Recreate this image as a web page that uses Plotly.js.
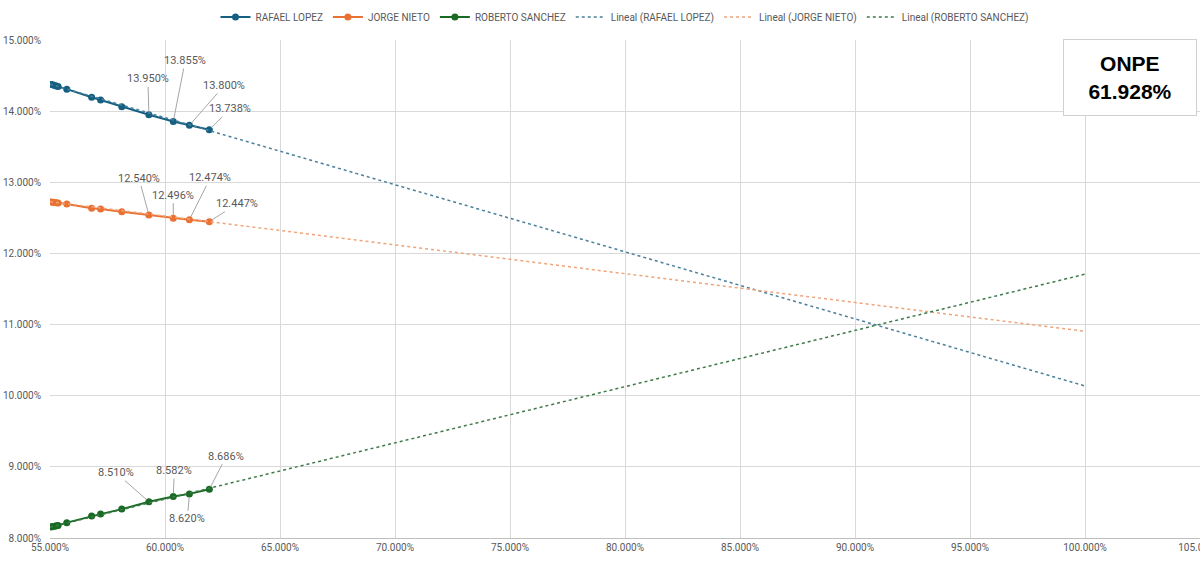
<!DOCTYPE html>
<html>
<head>
<meta charset="utf-8">
<script src="https://cdn.plot.ly/plotly-3.0.1.min.js"></script>
<style>html,body{margin:0;padding:0;background:#fff;}#chart{width:1200px;height:562px;}</style>
</head>
<body>
<div id="chart"></div>
<script>
// Percentage of votes counted by ONPE (x axis)
const counted = [55.05, 55.12, 55.20, 55.28, 55.35, 55.73, 56.81, 57.20, 58.12, 59.30, 60.36, 61.06, 61.928];
// Vote share per candidate (%)
const rafaelLopez   = [14.376, 14.370, 14.362, 14.355, 14.348, 14.309, 14.196, 14.158, 14.060, 13.950, 13.855, 13.800, 13.738];
const jorgeNieto    = [12.724, 12.720, 12.716, 12.712, 12.708, 12.694, 12.634, 12.624, 12.587, 12.540, 12.496, 12.474, 12.447];
const robertoSanchez = [8.156, 8.161, 8.166, 8.172, 8.177, 8.216, 8.308, 8.336, 8.406, 8.510, 8.582, 8.620, 8.686];
// Linear trend lines (Excel "Lineal"), endpoints
const trendX = [55, 100];
const trendRafael = [14.380, 10.137];
const trendJorge = [12.728, 10.905];
const trendRoberto = [8.152, 11.708];
// Series names
const names = ["RAFAEL LOPEZ", "JORGE NIETO", "ROBERTO SANCHEZ"];
// Indices of points with data labels
const labelIdx = [9, 10, 11, 12];
const onpeCounted = 61.928;

const colors = ["#156082", "#E97132", "#196B24"];
const trendColors = ["#4a7f9a", "#f0a47a", "#3f7a4a"];
const series = [rafaelLopez, jorgeNieto, robertoSanchez];
const trends = [trendRafael, trendJorge, trendRoberto];
const FONT = "'Liberation Sans Narrow', 'Roboto', 'Liberation Sans', sans-serif";

const data = [];
series.forEach((s, i) => {
  data.push({
    x: counted, y: s, type: 'scatter', mode: 'lines+markers', name: names[i],
    line: {color: colors[i], width: 2}, marker: {color: colors[i], size: 7}
  });
});
trends.forEach((t, i) => {
  data.push({
    x: trendX, y: t, type: 'scatter', mode: 'lines', name: 'Lineal (' + names[i] + ')',
    line: {color: trendColors[i], width: 1.5, dash: 'dot'}, hoverinfo: 'skip'
  });
});

// label offsets (pixel) per series, per labelled point
const offsets = [
  [[-1, -36], [12, -61], [35, -40], [21, -21]],
  [[-10, -37], [0, -23], [21, -42], [28, -18]],
  [[-33, -29], [1, -26], [-2, 25], [17, -33]]
];
const annotations = [];
series.forEach((s, i) => {
  labelIdx.forEach((k, j) => {
    annotations.push({
      x: counted[k], y: s[k], xref: 'x', yref: 'y',
      text: s[k].toFixed(3) + '%',
      showarrow: true, arrowhead: 0, arrowwidth: 1, arrowcolor: '#a6a6a6',
      ax: offsets[i][j][0], ay: offsets[i][j][1], standoff: 3,
      font: {family: FONT, size: 11, color: '#595959'}
    });
  });
});
annotations.push({
  xref: 'paper', yref: 'paper', x: 0.939, y: 0.925, xanchor: 'center', yanchor: 'middle',
  showarrow: false, width: 128, height: 71,
  text: '<b>ONPE</b><br><b>' + onpeCounted.toFixed(3) + '%</b>',
  font: {family: "'Liberation Sans', Arial, sans-serif", size: 21, color: '#000'},
  bgcolor: '#ffffff', bordercolor: '#d0d0d0', borderwidth: 1, borderpad: 2
});

const layout = {
  width: 1200, height: 562,
  margin: {l: 50, r: 0, t: 40, b: 24},
  paper_bgcolor: '#ffffff', plot_bgcolor: '#ffffff',
  font: {family: FONT, size: 10, color: '#595959'},
  showlegend: true,
  legend: {orientation: 'h', x: 0.5, xanchor: 'center', y: 1.046, yanchor: 'middle',
           font: {family: FONT, size: 10, color: '#595959'}, itemwidth: 30},
  xaxis: {range: [55, 105], dtick: 5, tick0: 55, tickformat: '.3f', ticksuffix: '%',
          showgrid: true, gridcolor: '#d9d9d9', gridwidth: 1, zeroline: false,
          showline: true, linecolor: '#bfbfbf', linewidth: 1, ticks: '',
          ticklabeloverflow: 'allow',
          tickfont: {family: FONT, size: 10, color: '#595959'}, fixedrange: true},
  yaxis: {range: [8, 15], dtick: 1, tick0: 8, tickformat: '.3f', ticksuffix: '%',
          showgrid: true, gridcolor: '#d9d9d9', gridwidth: 1, zeroline: false,
          showline: false, ticks: '', ticklabelstandoff: 8,
          tickfont: {family: FONT, size: 10, color: '#595959'}, fixedrange: true},
  annotations: annotations
};

Plotly.newPlot('chart', data, layout, {displayModeBar: false, staticPlot: true});
</script>
</body>
</html>
